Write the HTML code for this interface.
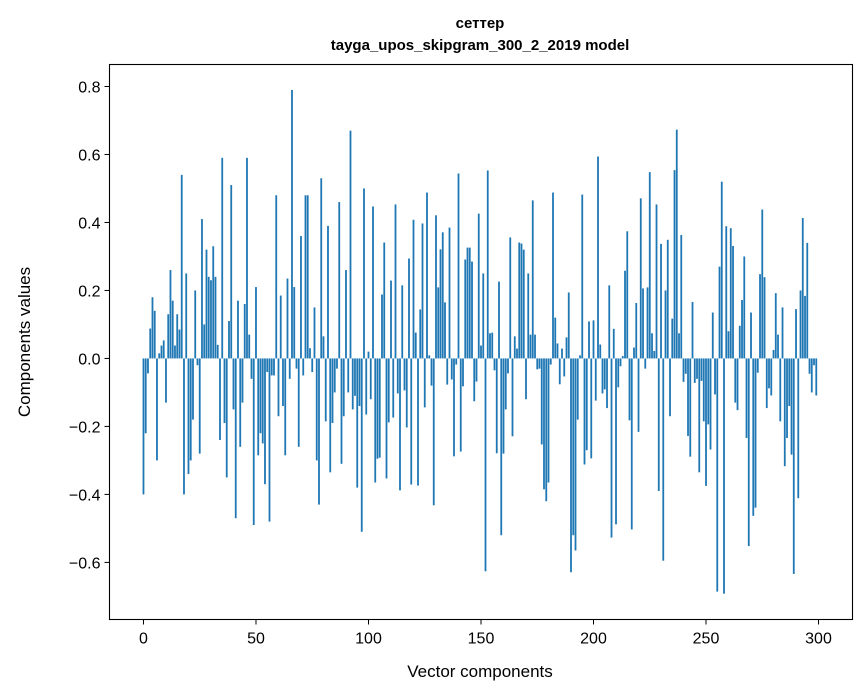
<!DOCTYPE html>
<html><head><meta charset="utf-8">
<style>
html,body{margin:0;padding:0;background:#fff;}
svg{display:block;font-family:"Liberation Sans","DejaVu Sans",sans-serif;}
</style></head>
<body>
<svg id="chart" width="867" height="696" viewBox="0 0 867 696" xmlns="http://www.w3.org/2000/svg">
<rect x="0" y="0" width="867" height="696" fill="#fff"/>
<text x="480" y="28" text-anchor="middle" font-size="15" font-weight="bold">сеттер</text>
<text x="480" y="50" text-anchor="middle" font-size="15" font-weight="bold">tayga_upos_skipgram_300_2_2019 model</text>
<g id="bars"></g>
<g id="xticks"></g>
<g id="yticks"></g>
<rect x="109.5" y="64.5" width="743" height="555" fill="none" stroke="#000" stroke-width="1.1"/>
<text x="480" y="677" text-anchor="middle" font-size="17">Vector components</text>
<text transform="translate(30,342) rotate(-90)" text-anchor="middle" font-size="17">Components values</text>
</svg>
<script>
const values = [
-0.40,-0.22,-0.044,0.088,0.18,0.14,-0.30,0.015,0.038,0.053,
-0.13,0.13,0.26,0.17,0.038,0.13,0.085,0.54,-0.40,0.25,
-0.34,-0.30,-0.18,0.20,-0.02,-0.28,0.41,0.10,0.32,0.24,
0.23,0.33,0.24,0.04,-0.24,0.59,-0.19,-0.35,0.11,0.51,
-0.15,-0.47,0.17,-0.26,-0.13,0.16,0.59,0.07,-0.06,-0.49,
0.21,-0.285,-0.22,-0.25,-0.37,-0.04,-0.48,-0.05,-0.05,0.48,
-0.17,0.185,-0.14,-0.285,0.235,-0.06,0.79,0.21,-0.03,-0.26,
0.36,-0.05,0.48,0.48,0.03,-0.04,0.15,-0.30,-0.43,0.53,
0.065,-0.185,0.39,-0.335,-0.19,-0.10,-0.03,0.46,-0.31,-0.17,
0.26,-0.10,0.67,-0.15,-0.11,-0.38,-0.14,-0.51,0.50,-0.165,
0.02,-0.12,0.447,-0.365,-0.295,-0.292,0.188,0.341,-0.353,-0.188,0.229,
-0.174,0.453,-0.103,-0.388,0.215,-0.094,-0.203,0.294,-0.371,0.408,
0.076,-0.374,0.144,0.397,-0.144,0.488,0.009,-0.08,-0.432,0.421,
0.209,0.321,0.371,0.165,-0.077,0.385,-0.062,-0.288,-0.018,0.544,
-0.274,-0.082,0.291,0.326,0.326,0.285,-0.126,-0.068,0.426,0.038,
0.25,-0.626,0.553,0.074,0.076,-0.035,-0.279,0.226,-0.52,-0.28,
-0.15,-0.044,0.356,-0.229,0.065,0.029,0.341,0.338,0.32,-0.12,
0.25,0.07,0.465,0.07,-0.032,-0.03,-0.253,-0.385,-0.42,-0.365,-0.018,
0.488,0.12,0.044,-0.076,0.029,-0.053,0.062,0.194,-0.629,-0.52,
-0.565,-0.18,0.009,0.482,-0.312,-0.27,0.109,-0.294,0.112,-0.124,
0.594,0.041,-0.103,-0.091,-0.146,0.215,-0.527,0.087,-0.488,-0.085,
-0.023,0.007,0.258,0.374,-0.182,-0.503,0.032,0.163,-0.216,0.471,
0.206,-0.03,0.209,0.548,0.074,0.022,0.453,-0.39,0.337,-0.595,
0.2,0.349,-0.17,0.117,0.554,0.673,0.074,0.363,-0.069,-0.045,
-0.228,-0.289,0.166,-0.072,-0.06,-0.335,-0.066,-0.185,-0.375,-0.194,
-0.268,0.135,-0.106,-0.686,0.27,0.52,-0.692,0.389,0.08,0.383,
0.331,-0.13,-0.152,0.096,0.172,0.30,-0.234,-0.552,0.135,-0.463,
-0.439,-0.042,0.248,0.438,0.239,-0.146,-0.088,-0.109,0.025,0.192,
0.07,-0.185,0.15,-0.317,-0.234,-0.14,-0.283,-0.634,0.145,-0.411,
0.2,0.413,0.184,0.34,-0.045,-0.10,-0.02,-0.109
];
const xTickValues = [0,50,100,150,200,250,300];
const xTickLabels = ["0","50","100","150","200","250","300"];
const yTickValues = [-0.6,-0.4,-0.2,0.0,0.2,0.4,0.6,0.8];
const yTickLabels = ["\u22120.6","\u22120.4","\u22120.2","0.0","0.2","0.4","0.6","0.8"];

const NS = "http://www.w3.org/2000/svg";
const xMin=-15.1, xMax=315.1, pLeft=109.5, pRight=852.5;
const yMin=-0.768, yMax=0.8647, pTop=64.5, pBottom=619.5;
function xs(v){return pLeft+(v-xMin)/(xMax-xMin)*(pRight-pLeft);}
function ys(v){return pBottom-(v-yMin)/(yMax-yMin)*(pBottom-pTop);}

const barsG=document.getElementById('bars');
const bw=(xs(0.8)-xs(0));
values.forEach((v,i)=>{
  const r=document.createElementNS(NS,'rect');
  const y0=ys(0), y1=ys(v);
  r.setAttribute('x',xs(i)-bw/2);
  r.setAttribute('y',Math.min(y0,y1));
  r.setAttribute('width',bw);
  r.setAttribute('height',Math.abs(y1-y0));
  r.setAttribute('fill','#1f77b4');
  
  
  barsG.appendChild(r);
});

const xg=document.getElementById('xticks');
xTickValues.forEach((v,i)=>{
  const x=xs(v);
  const l=document.createElementNS(NS,'line');
  l.setAttribute('x1',x);l.setAttribute('x2',x);
  l.setAttribute('y1',pBottom);l.setAttribute('y2',pBottom+5);
  l.setAttribute('stroke','#000');
  
  
  xg.appendChild(l);
  const t=document.createElementNS(NS,'text');
  t.setAttribute('x',x);t.setAttribute('y',pBottom+24);
  t.setAttribute('text-anchor','middle');t.setAttribute('font-size','16');
  t.textContent=xTickLabels[i];
  
  
  xg.appendChild(t);
});
const yg=document.getElementById('yticks');
yTickValues.forEach((v,i)=>{
  const y=ys(v);
  const l=document.createElementNS(NS,'line');
  l.setAttribute('x1',pLeft-5);l.setAttribute('x2',pLeft);
  l.setAttribute('y1',y);l.setAttribute('y2',y);
  l.setAttribute('stroke','#000');
  
  
  yg.appendChild(l);
  const t=document.createElementNS(NS,'text');
  t.setAttribute('x',pLeft-9);t.setAttribute('y',y+6);
  t.setAttribute('text-anchor','end');t.setAttribute('font-size','16');
  t.textContent=yTickLabels[i];
  
  
  yg.appendChild(t);
});
</script>
</body></html>
